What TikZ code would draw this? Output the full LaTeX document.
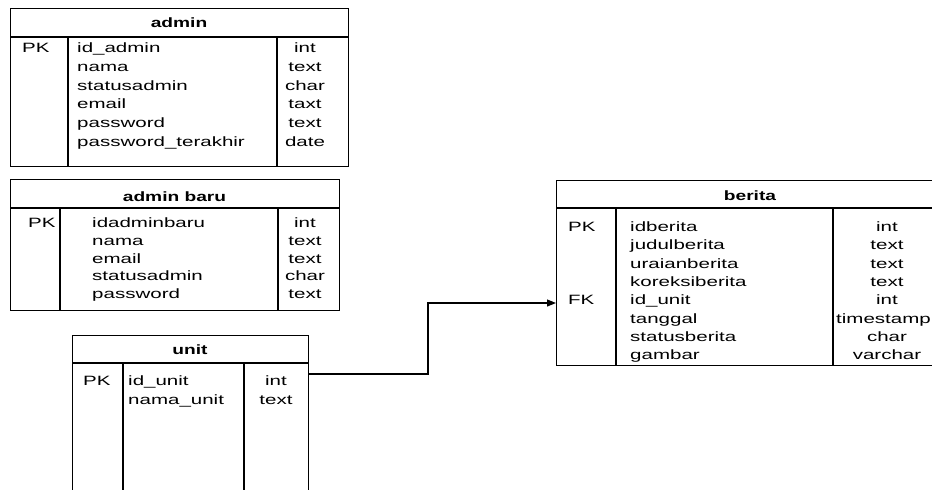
\documentclass[tikz,border=0pt]{standalone}
\usepackage{fontspec}
\setmainfont{Liberation Sans}
\newfontfamily\erdfont[FakeStretch=1.52]{Liberation Sans}
\newfontfamily\erdhead[FakeStretch=1.42]{Liberation Sans}
\usetikzlibrary{arrows.meta,positioning}

\begin{document}
\begin{tikzpicture}[x=1pt, y=-1pt, >={Triangle[length=9pt,width=7pt]},
    tbl/.style={draw, line width=1.1pt, anchor=north west, inner sep=0pt},
    hdr/.style={font=\erdhead\bfseries\fontsize{13.5}{16}\selectfont, anchor=base, inner sep=0pt},
    fld/.style={font=\erdfont\fontsize{13.5}{16}\selectfont, anchor=base west, inner sep=0pt},
    typ/.style={font=\erdfont\fontsize{13.5}{16}\selectfont, anchor=base, inner sep=0pt},
    sep/.style={line width=1.1pt}]
    \useasboundingbox (0,0) rectangle (932,490);
    \clip (0,0) rectangle (932,490);
    % admin
    \node[tbl, minimum width=338pt, minimum height=158pt] (admin) at (10,8) {};
    \draw[sep] (10,37) -- (348,37);
    \draw[sep] (68,37) -- (68,166);
    \draw[sep] (277,37) -- (277,166);
    \node[hdr] (admin-h) at (179,27.5) {admin};
    \node[fld] (admin-pk) at (22,52.5) {PK};
    \foreach \nm/\ty [count=\i from 0] in {id\_admin/int, nama/text, statusadmin/char,
        email/taxt, password/text, password\_terakhir/date}{%
      \node[fld] (admin-f\i) at (77,52.5+18.8*\i) {\nm};
      \node[typ] (admin-t\i) at (305,52.5+18.8*\i) {\ty};}
    % admin baru
    \node[tbl, minimum width=329pt, minimum height=131pt] (adminbaru) at (10,179) {};
    \draw[sep] (10,208) -- (339,208);
    \draw[sep] (60,208) -- (60,310);
    \draw[sep] (278,208) -- (278,310);
    \node[hdr] (adminbaru-h) at (174.5,201.5) {admin baru};
    \node[fld] (adminbaru-pk) at (28,227.5) {PK};
    \foreach \nm/\ty [count=\i from 0] in {idadminbaru/int, nama/text, email/text,
        statusadmin/char, password/text}{%
      \node[fld] (adminbaru-f\i) at (92,227.5+17.75*\i) {\nm};
      \node[typ] (adminbaru-t\i) at (305,227.5+17.75*\i) {\ty};}
    % unit
    \node[tbl, minimum width=236pt, minimum height=175pt] (unit) at (72,335) {};
    \draw[sep] (72,363) -- (308,363);
    \draw[sep] (123,363) -- (123,500);
    \draw[sep] (244,363) -- (244,500);
    \node[hdr] (unit-h) at (190,354.5) {unit};
    \node[fld] (unit-pk) at (83,385.5) {PK};
    \foreach \nm/\ty [count=\i from 0] in {id\_unit/int, nama\_unit/text}{%
      \node[fld] (unit-f\i) at (128,385.5+19*\i) {\nm};
      \node[typ] (unit-t\i) at (276,385.5+19*\i) {\ty};}
    % berita
    \node[tbl, minimum width=388pt, minimum height=185pt] (berita) at (556,180) {};
    \draw[sep] (556,208) -- (944,208);
    \draw[sep] (616,208) -- (616,365);
    \draw[sep] (833,208) -- (833,365);
    \node[hdr] (berita-h) at (750,200.5) {berita};
    \node[fld] (berita-pk) at (568,231.5) {PK};
    \node[fld] (berita-fk) at (568,304.5) {FK};
    \foreach \nm/\ty [count=\i from 0] in {idberita/int, judulberita/text, uraianberita/text,
        koreksiberita/text, id\_unit/int}{%
      \node[fld] (berita-f\i) at (630,231.5+18.3*\i) {\nm};
      \node[typ] (berita-t\i) at (887,231.5+18.3*\i) {\ty};}
    \node[fld] (berita-f5) at (630,323) {tanggal};
    \node[fld] (berita-t5) at (836,323) {timestamp};
    \foreach \nm/\ty [count=\i from 6] in {statusberita/char, gambar/varchar}{%
      \node[fld] (berita-f\i) at (630,231.5+18.3*\i) {\nm};
      \node[typ] (berita-t\i) at (887,231.5+18.3*\i) {\ty};}
    % relation unit -> berita
    \coordinate (unit-out) at (308,374);
    \coordinate (elbow) at (428,303);
    \draw[->, line width=1.1pt] (unit-out) -| (elbow) -- (elbow -| berita.west);
\end{tikzpicture}
\end{document}
